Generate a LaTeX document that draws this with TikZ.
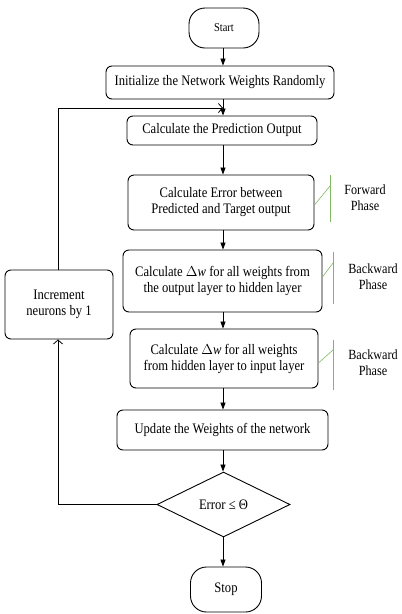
\documentclass[tikz,border=0pt]{standalone}
\usepackage{fontspec}
\setmainfont{Liberation Serif}[FakeStretch=0.87]
\usetikzlibrary{arrows.meta,shapes.geometric}
\definecolor{phasegreen}{RGB}{128,184,96}
\newcommand{\dw}{$\Delta$\textit{w}}

\begin{document}
\begin{tikzpicture}[x=1pt,y=-1pt,
  txt/.style={font=\fontsize{14.5}{16}\selectfont, align=center, inner sep=0pt},
  box/.style={txt, draw, line width=0.9pt, rounded corners=6pt},
  term/.style={txt, draw, line width=0.9pt, rounded corners=16pt},
  cond/.style={txt, draw, line width=0.9pt, diamond, minimum width=133pt, minimum height=65pt},
  flow/.style={line width=0.8pt, -{Triangle[length=7pt,width=5pt]}},
  back/.style={line width=0.8pt, -{Straight Barb[length=4pt,width=9pt]}},
  tick/.style={phasegreen, line width=0.6pt}]
\useasboundingbox (0,0) rectangle (402,614);
\node[term, minimum width=70pt, minimum height=40pt, font=\fontsize{12}{14}\selectfont] (start) at (224,28) {Start};
\node[box, minimum width=228pt, minimum height=33pt] (init) at (220,82.5) {Initialize the Network Weights Randomly};
\node[box, minimum width=190pt, minimum height=29pt] (pred) at (222,130.5) {Calculate the Prediction Output};
\node[box, minimum width=186pt, minimum height=55pt] (err) at (221,202.5) {Calculate Error between\\Predicted and Target output};
\node[box, minimum width=199pt, minimum height=62pt] (dwa) at (222.5,281) {Calculate \dw{} for all weights from\\the output layer to hidden layer};
\node[box, minimum width=188pt, minimum height=59pt] (dwb) at (224,358.5) {Calculate \dw{} for all weights\\from hidden layer to input layer};
\node[box, minimum width=211pt, minimum height=40pt] (upd) at (222.5,430) {Update the Weights of the network};
\node[cond] (dec) at (223.5,504.5) {Error ≤ Θ};
\node[term, minimum width=71pt, minimum height=45pt] (stop) at (226,589.5) {Stop};
\node[box, minimum width=108pt, minimum height=69pt] (inc) at (59,304.5) {Increment\\neurons by 1};
\node[txt, font=\fontsize{14}{16}\selectfont] (fwd) at (365,198) {Forward\\Phase};
\node[txt, font=\fontsize{14}{16}\selectfont] (bwa) at (373,277) {Backward\\Phase};
\node[txt, font=\fontsize{14}{16}\selectfont] (bwb) at (373,363) {Backward\\Phase};
\coordinate (join) at (223,108);
\coordinate (turn) at (58,108);
\draw[flow] (start.south -| join) -- (init.north -| join);
\draw[flow] (init.south -| join) -- (pred.north -| join);
\draw[flow] (pred.south -| join) -- (err.north -| join);
\draw[flow] (err.south -| join) -- (dwa.north -| join);
\draw[flow] (dwa.south -| join) -- (dwb.north -| join);
\draw[flow] (dwb.south -| join) -- (upd.north -| join);
\draw[flow] (upd.south -| join) -- (dec.north -| join);
\draw[flow] (dec.south -| join) -- (stop.north -| join);
\draw[back] (dec.west) -| (inc.south -| turn);
\draw[back] (inc.north -| turn) -- (turn) -- (join);
\draw[tick] (330,175) -- (330,222);
\draw[tick] (err.east |- 0,205) -- (330,186);
\draw[tick] (333,252) -- (333,304);
\draw[tick] (dwa.east |- 0,277) -- (333,263);
\draw[tick] (333,340) -- (333,390);
\draw[tick] (dwb.east |- 0,363) -- (333,350);
\end{tikzpicture}
\end{document}
